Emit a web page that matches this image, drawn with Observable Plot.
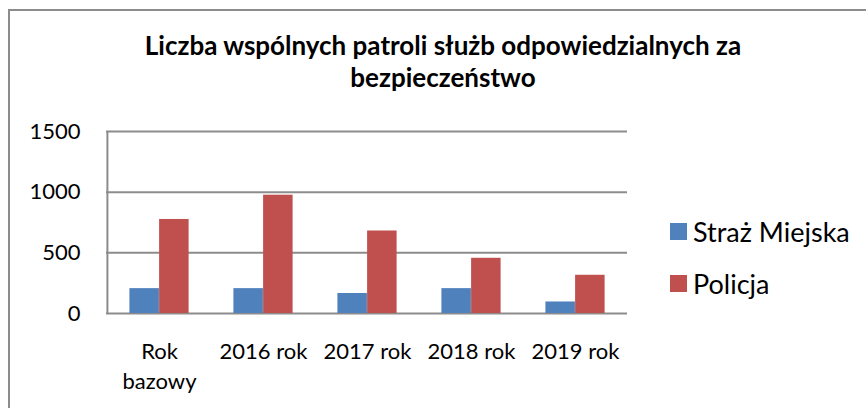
<!DOCTYPE html>
<html>
<head>
<meta charset="utf-8">
<script src="https://cdn.jsdelivr.net/npm/d3@7"></script>
<script src="https://cdn.jsdelivr.net/npm/@observablehq/plot@0.6"></script>
<style>
  html, body { margin: 0; padding: 0; background: #fff; }
  #wrap { position: relative; width: 866px; height: 408px; overflow: hidden; font-family: Lato, "Open Sans", sans-serif; color: #000; }
  #frame { position: absolute; left: 8px; top: 9px; width: 900px; height: 450px; border-top: 2px solid #8c8c8c; border-left: 2px solid #8c8c8c; box-sizing: border-box; }
  #title { position: absolute; left: 0; width: 886px; top: 30px; text-align: center; font-weight: 700; font-size: 26px; line-height: 31.5px; }
  #chart { position: absolute; left: 0; top: 100px; }
  #legend { position: absolute; left: 670px; top: 214px; font-size: 27px; }
  .item { position: relative; height: 52px; }
  .sw { position: absolute; left: 0; top: 9px; width: 17px; height: 17px; }
  .lbl { position: absolute; left: 23px; top: 0; line-height: 35px; white-space: nowrap; }
</style>
</head>
<body>
<div id="wrap">
  <div id="frame"></div>
  <div id="title"></div>
  <div id="chart"></div>
  <div id="legend"></div>
</div>
<script>
const titleLines = ["Liczba wspólnych patroli służb odpowiedzialnych za", "bezpieczeństwo"];
const categories = ["Rok bazowy", "2016 rok", "2017 rok", "2018 rok", "2019 rok"];
const tickLabels = ["Rok\nbazowy", "2016 rok", "2017 rok", "2018 rok", "2019 rok"];
const seriesNames = ["Straż Miejska", "Policja"];
const strazValues = [205, 205, 165, 205, 95];
const policjaValues = [775, 975, 680, 455, 315];
const colors = ["#4F81BD", "#C0504D"];
const yTicks = [0, 500, 1000, 1500];

document.getElementById("title").innerHTML = titleLines.join("<br>");

const strazData = categories.map((c, i) => ({category: c, value: strazValues[i], series: seriesNames[0]}));
const policjaData = categories.map((c, i) => ({category: c, value: policjaValues[i], series: seriesNames[1]}));

const W = 866, H = 308;
const mL = 106, mR = 239, mT = 31, mB = 95;
const band = (W - mL - mR) / categories.length;
const barW = 29.7;
const outer = (band - 2 * barW) / 2;

const chart = Plot.plot({
  width: W,
  height: H,
  marginLeft: mL,
  marginRight: mR,
  marginTop: mT,
  marginBottom: mB,
  style: {fontFamily: "Lato, 'Open Sans', sans-serif", fontSize: "22px", color: "#000", background: "transparent"},
  x: {domain: categories, padding: 0, axis: null},
  y: {domain: [0, 1500], axis: null},
  color: {domain: seriesNames, range: colors},
  marks: [
    Plot.ruleY(yTicks, {y: d => d, stroke: "#8c8c8c", strokeWidth: 2}),
    Plot.ruleX([categories[0]], {x: d => d, y1: 0, y2: 1500, dx: -band / 2, stroke: "#8c8c8c", strokeWidth: 2}),
    Plot.barY(strazData, {x: "category", y: "value", fill: "series", insetLeft: outer, insetRight: band - outer - barW}),
    Plot.barY(policjaData, {x: "category", y: "value", fill: "series", insetLeft: outer + barW, insetRight: outer}),
    Plot.text(yTicks, {y: d => d, text: d => String(d), frameAnchor: "left", textAnchor: "end", dx: -26, fontSize: 22, fill: "#000"}),
    Plot.text(categories, {x: d => d, text: (d, i) => tickLabels[i], frameAnchor: "bottom", lineAnchor: "top", dy: 24, lineHeight: 1.36, fontSize: 22, fill: "#000"})
  ]
});
document.getElementById("chart").appendChild(chart);

const legend = document.getElementById("legend");
seriesNames.forEach((name, i) => {
  const item = document.createElement("div");
  item.className = "item";
  const sw = document.createElement("div");
  sw.className = "sw";
  sw.style.background = colors[i];
  const lbl = document.createElement("div");
  lbl.className = "lbl";
  lbl.textContent = name;
  item.appendChild(sw);
  item.appendChild(lbl);
  legend.appendChild(item);
});
</script>
</body>
</html>
